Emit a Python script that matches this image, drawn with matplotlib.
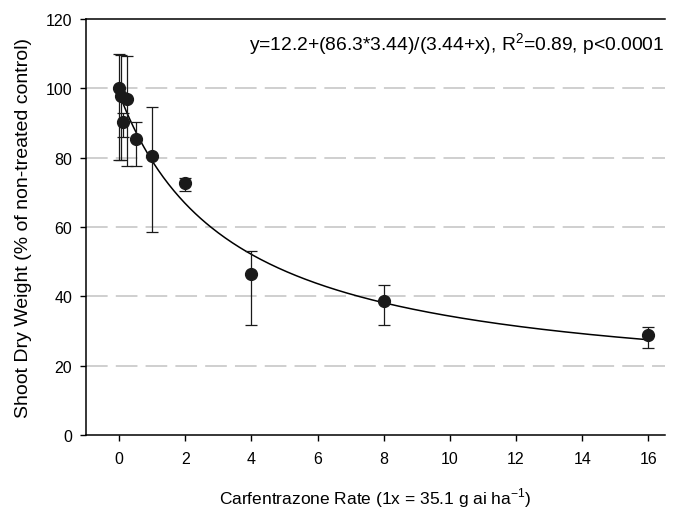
import numpy as np
import matplotlib
matplotlib.use('Agg')
import matplotlib.pyplot as plt

plt.rcParams['font.family'] = ['Liberation Sans', 'DejaVu Sans']
plt.rcParams['mathtext.fontset'] = 'custom'
plt.rcParams['mathtext.rm'] = 'Liberation Sans'

# herbicide rate (fraction of 1x) and shoot dry weight (% of control)
rate = [0, 0.0625, 0.125, 0.25, 0.5, 1, 2, 4, 8, 16]
weight = [100.2, 97.9, 90.2, 96.8, 85.4, 80.4, 72.7, 46.4, 38.7, 28.9]
err_upper = [110.0, 109.7, 92.8, 109.3, 90.2, 94.5, 74.1, 53.0, 43.4, 31.2]
err_lower = [79.2, 79.2, 86.1, 77.7, 77.7, 58.7, 70.3, 31.8, 31.7, 25.1]

# fitted hyperbolic decay y = c + (a*b)/(b + x)
fit_c = 12.2
fit_a = 86.3
fit_b = 3.44

rate = np.array(rate)
weight = np.array(weight)
yerr = [weight - np.array(err_lower), np.array(err_upper) - weight]

fig = plt.figure(figsize=(6.73, 5.10), dpi=100)
ax = fig.add_axes([0.1278, 0.1451, 0.8602, 0.8157])

for yv in [20, 40, 60, 80, 100]:
    ax.axhline(yv, color='#cccccc', lw=1.3, dashes=(12, 4.5), zorder=0)

xs = np.linspace(0, 16, 300)
ax.plot(xs, fit_c + fit_a * fit_b / (fit_b + xs), color='black', lw=1.1, zorder=2)

ax.errorbar(rate, weight, yerr=yerr, fmt='o', color='#1a1a1a', ms=8.5,
            ecolor='#1a1a1a', elinewidth=0.9, capsize=4.5, capthick=0.9, zorder=3)

ax.set_xlim(-1, 16.5)
ax.set_ylim(0, 120)
ax.set_xticks(range(0, 17, 2))
ax.set_yticks(range(0, 121, 20))
ax.spines['right'].set_visible(False)
for s in ['left', 'bottom', 'top']:
    ax.spines[s].set_linewidth(1.1)
ax.tick_params(direction='out', length=4.5, width=1, labelsize=11.5)
ax.tick_params(axis='x', pad=7)
ax.tick_params(axis='y', pad=5.5)

ax.set_xlabel(r'Carfentrazone Rate (1x = 35.1 g ai ha$^{-1}$)', fontsize=12.5, labelpad=14)
ax.set_ylabel('Shoot Dry Weight (% of non-treated control)', fontsize=14, labelpad=10)

ax.text(0.282, 0.94, r'y=12.2+(86.3*3.44)/(3.44+x), R$^{2}$=0.89, p<0.0001',
        transform=ax.transAxes, fontsize=13.9, ha='left', va='center')

plt.savefig('out.png', dpi=100)
